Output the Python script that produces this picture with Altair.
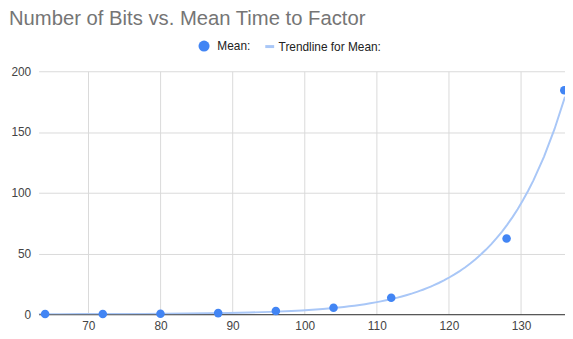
import altair as alt
import pandas as pd

bits = [64, 72, 80, 88, 96, 104, 112, 128, 136]
mean_time = [0.1, 0.2, 0.4, 0.9, 2.7, 5.4, 13.6, 62.4, 184.3]
x_ticks = [70, 80, 90, 100, 110, 120, 130]
y_ticks = [0, 50, 100, 150, 200]

df = pd.DataFrame({"bits": bits, "mean": mean_time})

BLUE = "#4285F4"
TREND = "#A9C7F7"
FONT = "Liberation Sans"

x_enc = alt.X("bits:Q", scale=alt.Scale(domain=[63.1, 136.1], nice=False, zero=False),
              axis=alt.Axis(values=x_ticks, title=None, grid=True, ticks=False,
                            domain=True, domainColor="#333333", labelPadding=6))
y_enc = alt.Y("mean:Q", scale=alt.Scale(domain=[0, 200], nice=False),
              axis=alt.Axis(values=y_ticks, title=None, grid=True, ticks=False,
                            domain=False, labelPadding=8))

base = alt.Chart(df)

trend = base.transform_regression(
    "bits", "mean", method="exp", extent=[63.1, 136.1]
).transform_calculate(series="'Trendline for Mean:'").mark_line(strokeWidth=2, clip=True).encode(
    x=x_enc, y=y_enc,
    stroke=alt.Stroke("series:N",
                      scale=alt.Scale(domain=["Trendline for Mean:"], range=[TREND]),
                      legend=alt.Legend(title=None, orient="none", legendX=228, legendY=-31,
                                        symbolType="stroke", symbolSize=81,
                                        symbolStrokeWidth=3, labelOffset=3)),
)

points = base.transform_calculate(series="'Mean:'").mark_circle(size=75, opacity=1).encode(
    x=x_enc, y=y_enc,
    fill=alt.Fill("series:N",
                  scale=alt.Scale(domain=["Mean:"], range=[BLUE]),
                  legend=alt.Legend(title=None, orient="none", legendX=161, legendY=-32,
                                    symbolType="circle", symbolSize=125,
                                    labelOffset=7)),
)

chart = alt.layer(trend, points).resolve_legend(fill="independent", stroke="independent").properties(
    width=533, height=246,
    padding={"left": 31, "top": 62, "right": 0, "bottom": 20},
    autosize=alt.AutoSizeParams(type="none"),
    title=alt.TitleParams("Number of Bits vs. Mean Time to Factor", anchor="start",
                          dx=-2, fontSize=20.5, color="#757575", font=FONT,
                          fontWeight="normal", offset=10),
).configure_view(stroke=None).configure_axis(
    labelFont=FONT, labelFontSize=12, labelColor="#444444",
    gridColor="#d9d9d9", gridWidth=1,
).configure_legend(
    labelFont=FONT, labelFontSize=12, labelColor="#222222",
)

chart.save("out.html", embed_options={"renderer": "svg", "actions": False})
